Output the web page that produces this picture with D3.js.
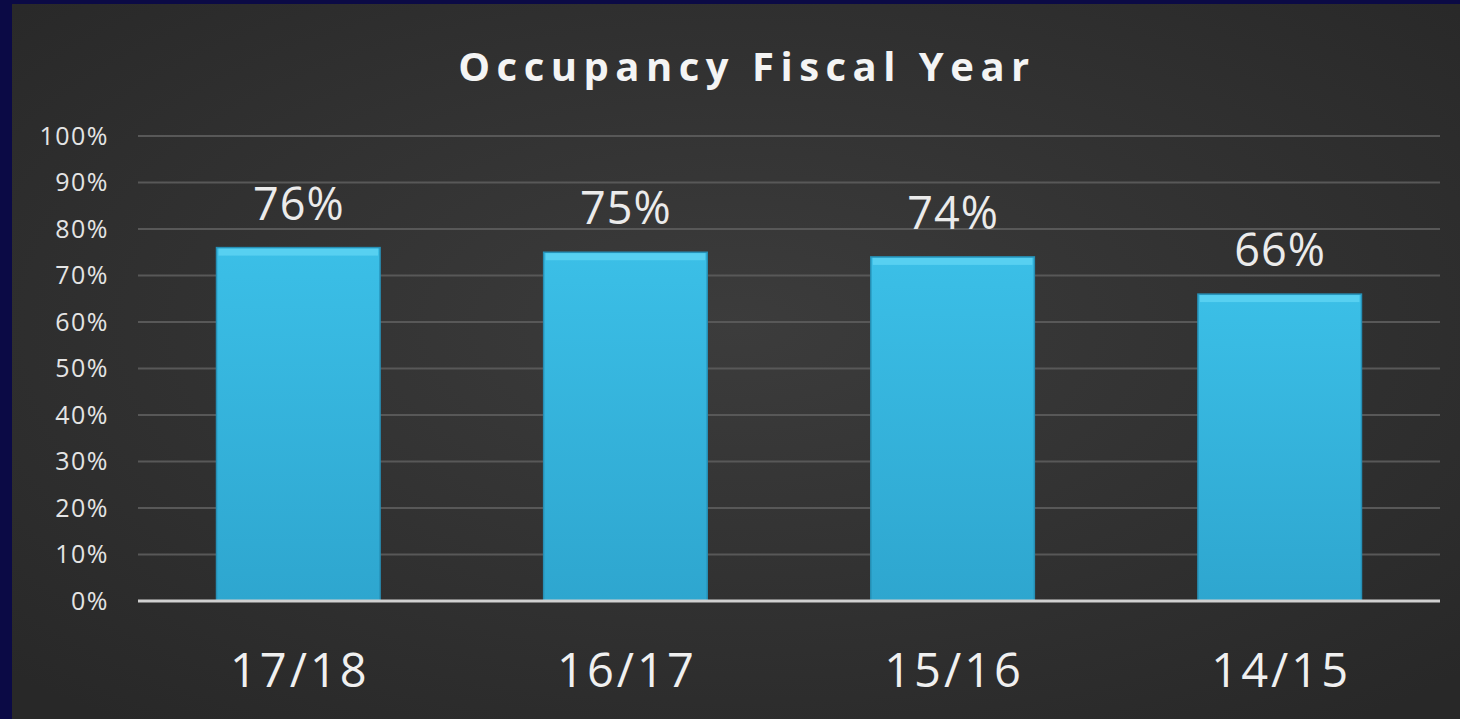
<!DOCTYPE html>
<html>
<head>
<meta charset="utf-8">
<script src="https://cdn.jsdelivr.net/npm/d3@7"></script>
<style>
  html, body { margin: 0; padding: 0; background: #0b0b45; overflow: hidden; }
</style>
</head>
<body>
<svg id="chart" width="1460" height="719"></svg>
<script>
const categories = ["17/18", "16/17", "15/16", "14/15"];
const occupancy = [76, 75, 74, 66];
const yTicks = [0, 10, 20, 30, 40, 50, 60, 70, 80, 90, 100];
const chartTitle = "Occupancy Fiscal Year";

const svg = d3.select("#chart");
const defs = svg.append("defs");

// panel background, lighter in the middle
const bg = defs.append("radialGradient").attr("id", "bg")
  .attr("cx", "50%").attr("cy", "45%").attr("r", "70%");
bg.append("stop").attr("offset", "0%").attr("stop-color", "#3c3c3c");
bg.append("stop").attr("offset", "100%").attr("stop-color", "#282828");

const barGrad = defs.append("linearGradient").attr("id", "barGrad")
  .attr("x1", 0).attr("y1", 0).attr("x2", 0).attr("y2", 1);
barGrad.append("stop").attr("offset", "0%").attr("stop-color", "#3bbfe7");
barGrad.append("stop").attr("offset", "100%").attr("stop-color", "#2ea6cf");

// navy frame + gray panel
svg.append("rect").attr("width", 1460).attr("height", 719).attr("fill", "#0b0a45");
svg.append("rect").attr("x", 12).attr("y", 4).attr("width", 1448).attr("height", 715)
  .attr("fill", "url(#bg)");

const x = d3.scaleBand()
  .domain(categories)
  .range([138, 1440])
  .paddingInner(0.5)
  .paddingOuter(0.24);

const y = d3.scaleLinear()
  .domain([0, 100])
  .range([601, 136]);

// gridlines
svg.append("g")
  .selectAll("line")
  .data(yTicks.filter(d => d > 0))
  .enter()
  .append("line")
  .attr("x1", 138)
  .attr("x2", 1440)
  .attr("y1", d => y(d))
  .attr("y2", d => y(d))
  .attr("stroke", "#585858")
  .attr("stroke-width", 2);

// y axis labels (trailing letter-spacing pushes text left, so nudge right)
const yAxis = svg.append("g")
  .attr("transform", "translate(109,0)")
  .call(d3.axisLeft(y).tickValues(yTicks).tickFormat(d => d + "%").tickSize(0).tickPadding(0));
yAxis.select(".domain").remove();
yAxis.selectAll("text")
  .attr("fill", "#e4e4e4")
  .style("font-family", "'Open Sans', sans-serif")
  .style("font-size", "25px")
  .style("letter-spacing", "1.5px");

// bars
svg.selectAll(".bar")
  .data(occupancy)
  .enter()
  .append("rect")
  .attr("class", "bar")
  .attr("x", (d, i) => x(categories[i]))
  .attr("y", d => y(d))
  .attr("width", x.bandwidth())
  .attr("height", d => y(0) - y(d))
  .attr("fill", "url(#barGrad)")
  .attr("stroke", "#2690b6")
  .attr("stroke-width", 1.5);

// top bevel highlight
svg.selectAll(".bevel")
  .data(occupancy)
  .enter()
  .append("rect")
  .attr("class", "bevel")
  .attr("x", (d, i) => x(categories[i]) + 2)
  .attr("y", d => y(d) + 1)
  .attr("width", x.bandwidth() - 4)
  .attr("height", 7)
  .attr("fill", "#62d6f4")
  .attr("opacity", 0.75);

// value labels
svg.selectAll(".value")
  .data(occupancy)
  .enter()
  .append("text")
  .attr("class", "value")
  .attr("x", (d, i) => x(categories[i]) + x.bandwidth() / 2 + 0.5)
  .attr("y", d => y(d) - 28)
  .attr("text-anchor", "middle")
  .attr("fill", "#ebebeb")
  .style("font-family", "'Open Sans', sans-serif")
  .style("font-size", "45px")
  .style("letter-spacing", "1px")
  .text(d => d + "%");

// baseline
svg.append("line")
  .attr("x1", 138).attr("x2", 1440)
  .attr("y1", y(0)).attr("y2", y(0))
  .attr("stroke", "#d0d0d0")
  .attr("stroke-width", 3);

// category labels
const xAxis = svg.append("g")
  .attr("transform", `translate(1.5,${y(0)})`)
  .call(d3.axisBottom(x).tickSize(0).tickPadding(0));
xAxis.select(".domain").remove();
xAxis.selectAll("text")
  .attr("y", 86)
  .attr("dy", 0)
  .attr("fill", "#f0f0f0")
  .style("font-family", "'Open Sans', sans-serif")
  .style("font-size", "47px")
  .style("letter-spacing", "3px");

// title
svg.append("text")
  .attr("x", 747)
  .attr("y", 81)
  .attr("text-anchor", "middle")
  .attr("fill", "#f4f4f4")
  .style("font-family", "'Open Sans', sans-serif")
  .style("font-weight", "bold")
  .style("font-size", "40px")
  .style("letter-spacing", "6.5px")
  .text(chartTitle);
</script>
</body>
</html>
